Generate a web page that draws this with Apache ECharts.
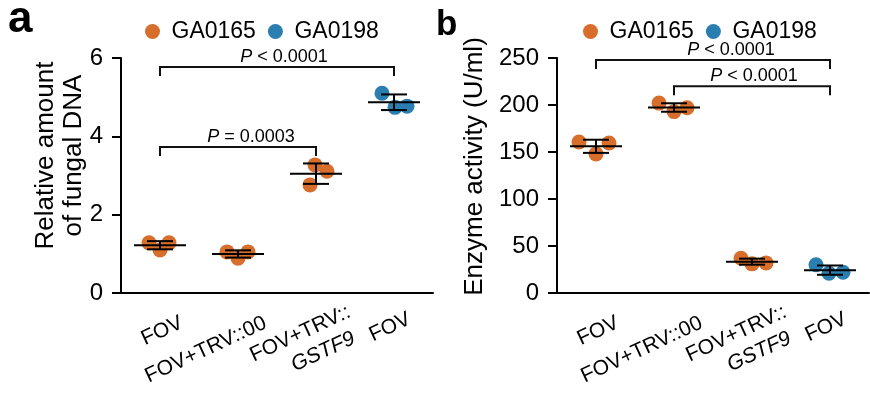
<!DOCTYPE html>
<html>
<head>
<meta charset="utf-8" />
<title>Fungal DNA and enzyme activity</title>
<style type="text/css">
  html, body {margin: 0; padding: 0; background: #fff;}
  #main {width: 870px; height: 396px;}
</style>
<script type="text/javascript" src="https://cdn.jsdelivr.net/npm/echarts@6/dist/echarts.min.js"></script>
</head>
<body>
<div id="main"></div>
<script type="text/javascript">
// categories along x (same four groups in both panels)
var groups = ['FOV', 'FOV+TRV::00', 'FOV+TRV::\nGSTF9', 'FOV'];
var strainOf = ['GA0165', 'GA0165', 'GA0165', 'GA0198'];
var strains = ['GA0165', 'GA0198'];

// panel a: relative amount of fungal DNA, 3 replicates per group
var fungalDNA = [
  [1.28, 1.10, 1.28],
  [1.05, 0.89, 1.05],
  [3.27, 3.11, 2.76],
  [5.10, 4.74, 4.77]
];
// panel b: enzyme activity (U/ml)
var enzymeActivity = [
  [160.6, 148, 159.6],
  [202, 193, 197],
  [37, 31, 32],
  [30, 21, 22]
];

// significance brackets: [from group, to group, height]
var bracketsA = [[0, 3, 5.77], [0, 2, 3.73]];
var pTextA = ['< 0.0001', '= 0.0003'];
var bracketsB = [[0, 3, 248], [1, 3, 220]];
var pTextB = ['< 0.0001', '< 0.0001'];

var ticksA = {min: 0, max: 6, interval: 2};
var ticksB = {min: 0, max: 250, interval: 50};

var FONT = '"Liberation Sans", Arial, Helvetica, sans-serif';
var COLORS = {GA0165: '#D86E2C', GA0198: '#2B7EB0'};
// horizontal spread of the dots (px), purely visual
var jitterA = [[-11, 0, 9], [-11, 0, 10], [-1, 11, -6], [-12, 1, 13]];
var jitterB = [[-17, 0, 13], [-15, 0, 13], [-11, 0, 14], [-14, -1, 13]];
var pTextShift = [[7, 13], [18, 2]];
var labelPad = [[0, -24, 0, 0], [5, -29, 0, 0], [16, -39, 0, 0], [0, -20, 12, 0]];

function meanSd(arr) {
  var m = arr.reduce(function (a, b) { return a + b; }, 0) / arr.length;
  var ss = arr.reduce(function (a, b) { return a + (b - m) * (b - m); }, 0);
  return [m, Math.sqrt(ss / (arr.length - 1))];
}

function scatterSeries(values, jitter, strain, idx) {
  var data = [];
  values.forEach(function (pts, i) {
    if (strainOf[i] !== strain) return;
    pts.forEach(function (v, k) {
      data.push({value: [i, v], symbolOffset: [jitter[i][k], 0]});
    });
  });
  return {
    type: 'scatter', name: strain, xAxisIndex: idx, yAxisIndex: idx,
    data: data, symbol: 'circle', symbolSize: 15, z: 2,
    itemStyle: {color: COLORS[strain], opacity: 1},
    emphasis: {disabled: true}
  };
}

function statsSeries(values, idx) {
  return {
    type: 'custom', xAxisIndex: idx, yAxisIndex: idx, z: 3, silent: true,
    encode: {x: 0, y: 1},
    data: values.map(function (pts, i) { var s = meanSd(pts); return [i, s[0], s[1]]; }),
    renderItem: function (params, api) {
      var x = api.value(0), m = api.value(1), sd = api.value(2);
      var c = api.coord([x, m]), t = api.coord([x, m + sd]), b = api.coord([x, m - sd]);
      var st = {stroke: '#000', lineWidth: 2};
      return {type: 'group', children: [
        {type: 'line', shape: {x1: c[0] - 26, y1: c[1], x2: c[0] + 26, y2: c[1]}, style: st},
        {type: 'line', shape: {x1: c[0], y1: t[1], x2: c[0], y2: b[1]}, style: st},
        {type: 'line', shape: {x1: c[0] - 13, y1: t[1], x2: c[0] + 13, y2: t[1]}, style: st},
        {type: 'line', shape: {x1: c[0] - 13, y1: b[1], x2: c[0] + 13, y2: b[1]}, style: st}
      ]};
    }
  };
}

function bracketSeries(brackets, texts, idx) {
  return {
    type: 'custom', xAxisIndex: idx, yAxisIndex: idx, z: 3, silent: true,
    encode: {x: 0, y: 2},
    data: brackets.map(function (b) { return [b[0], b[1], b[2]]; }),
    renderItem: function (params, api) {
      var br = brackets[params.dataIndex];
      var p1 = api.coord([br[0], br[2]]), p2 = api.coord([br[1], br[2]]);
      var drop = 9;
      return {type: 'group', children: [
        {type: 'polyline', shape: {points: [[p1[0], p1[1] + drop], [p1[0], p1[1]], [p2[0], p2[1]], [p2[0], p2[1] + drop]]},
         style: {stroke: '#111', lineWidth: 2, fill: null}},
        {type: 'text', style: {
          text: '{p|P} ' + texts[params.dataIndex],
          x: (p1[0] + p2[0]) / 2 + pTextShift[idx][params.dataIndex], y: p1[1] - 1,
          align: 'center', verticalAlign: 'bottom',
          fontSize: 18, fontFamily: FONT, fill: '#000',
          rich: {p: {fontStyle: 'italic', fontSize: 18, fontFamily: FONT, fill: '#000'}}
        }}
      ]};
    }
  };
}

function xAxis(idx) {
  return {
    type: 'category', gridIndex: idx,
    data: groups.map(function (g, i) { return {value: g, textStyle: {padding: labelPad[i]}}; }),
    boundaryGap: true,
    axisLine: {lineStyle: {color: '#000', width: 2}},
    axisTick: {alignWithLabel: true, length: 8, lineStyle: {color: '#000', width: 2}},
    axisLabel: {
      interval: 0, rotate: 25, margin: 39, color: '#000', fontSize: 21, fontFamily: FONT, lineHeight: 26,
      formatter: function (v) { return v.replace('GSTF9', '{i|GSTF9}'); },
      rich: {i: {fontStyle: 'italic', fontSize: 21, fontFamily: FONT, color: '#000', lineHeight: 26, padding: [0, 7, 0, 0]}}
    },
    splitLine: {show: false}
  };
}

function yAxis(idx, ticks, name, gap, pad, lh) {
  return {
    type: 'value', gridIndex: idx, min: ticks.min, max: ticks.max, interval: ticks.interval,
    name: name, nameLocation: 'middle', nameRotate: 90, nameGap: gap, nameMoveOverlap: false,
    nameTextStyle: {fontSize: 26, fontFamily: FONT, color: '#000', lineHeight: lh, padding: pad},
    axisLine: {show: true, lineStyle: {color: '#000', width: 2}},
    axisTick: {show: true, length: 9, lineStyle: {color: '#000', width: 2}},
    axisLabel: {color: '#000', fontSize: 24, fontFamily: FONT, margin: 18},
    splitLine: {show: false}
  };
}

function legend(left) {
  return {
    left: left, top: 15, orient: 'horizontal', data: strains, icon: 'circle',
    itemWidth: 28, itemHeight: 15, itemGap: 12, selectedMode: false,
    textStyle: {fontSize: 23, fontFamily: FONT, color: '#000'}
  };
}

var myChart = echarts.init(document.getElementById('main'), null, {renderer: 'canvas'});

myChart.setOption({
  animation: false,
  backgroundColor: '#fff',
  textStyle: {fontFamily: FONT},
  title: [
    {text: 'a', left: 8, top: -2, padding: 0, textStyle: {fontSize: 44, fontWeight: 'bold', color: '#000', fontFamily: FONT}},
    {text: 'b', left: 436, top: 8, padding: 0, textStyle: {fontSize: 35, fontWeight: 'bold', color: '#000', fontFamily: FONT}}
  ],
  legend: [legend(140), legend(578)],
  grid: [
    {left: 121, right: 437, top: 58, bottom: 103, containLabel: false, outerBoundsMode: 'none'},
    {left: 557, right: 1, top: 58, bottom: 103, containLabel: false, outerBoundsMode: 'none'}
  ],
  xAxis: [xAxis(0), xAxis(1)],
  yAxis: [
    yAxis(0, ticksA, 'Relative amount\nof fungal DNA', 33, [0, 0, 0, 40], 28),
    yAxis(1, ticksB, 'Enzyme activity (U/ml)', 68, [0, 0, 0, 18], 29)
  ],
  series: [
    scatterSeries(fungalDNA, jitterA, 'GA0165', 0),
    scatterSeries(fungalDNA, jitterA, 'GA0198', 0),
    statsSeries(fungalDNA, 0),
    bracketSeries(bracketsA, pTextA, 0),
    scatterSeries(enzymeActivity, jitterB, 'GA0165', 1),
    scatterSeries(enzymeActivity, jitterB, 'GA0198', 1),
    statsSeries(enzymeActivity, 1),
    bracketSeries(bracketsB, pTextB, 1)
  ]
});
</script>
</body>
</html>
